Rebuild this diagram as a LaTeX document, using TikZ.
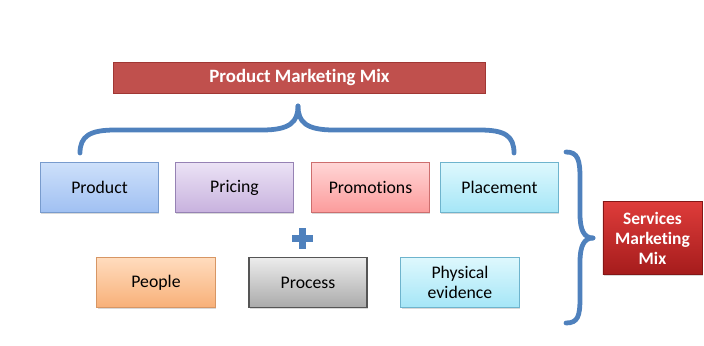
\documentclass[tikz,border=0pt]{standalone}
\usepackage{fontspec}
\setmainfont{Carlito}[Ligatures=NoCommon]
\usetikzlibrary{shadows}
\usepackage{xcolor}
\definecolor{bracblue}{RGB}{79,129,189}
\definecolor{mixred}{RGB}{192,80,77}
\definecolor{mixredd}{RGB}{160,55,52}
\definecolor{svctop}{RGB}{222,60,58}
\definecolor{svcbot}{RGB}{165,28,28}
\definecolor{prodtop}{RGB}{205,224,250}
\definecolor{prodbot}{RGB}{160,192,242}
\definecolor{prodln}{RGB}{120,155,205}
\definecolor{pricetop}{RGB}{235,226,245}
\definecolor{pricebot}{RGB}{200,178,222}
\definecolor{priceln}{RGB}{150,130,180}
\definecolor{promtop}{RGB}{255,214,214}
\definecolor{prombot}{RGB}{252,155,155}
\definecolor{promln}{RGB}{205,110,110}
\definecolor{plactop}{RGB}{222,248,253}
\definecolor{placbot}{RGB}{165,230,247}
\definecolor{placln}{RGB}{110,180,205}
\definecolor{peoptop}{RGB}{255,220,190}
\definecolor{peopbot}{RGB}{248,176,120}
\definecolor{peopln}{RGB}{215,150,100}
\definecolor{proctop}{RGB}{236,236,236}
\definecolor{procbot}{RGB}{170,170,170}
\definecolor{procln}{RGB}{85,85,85}

\begin{document}
\begin{tikzpicture}[x=0.025cm, y=-0.025cm, font=\fontsize{12.6}{14.5}\selectfont,
  mbox/.style={draw, line width=0.7pt, minimum width=2.95cm, minimum height=1.25cm,
               align=center, text=black,
               drop shadow={opacity=0.3, shadow xshift=0.6pt, shadow yshift=-0.8pt}},
  brace/.style={draw=bracblue, line width=3.4pt, line cap=round}]

\useasboundingbox (0,0) rectangle (704,345);

% --- headings ---
\node[draw=mixredd, fill=mixred, minimum width=9.3cm, minimum height=0.78cm,
      text=white, font=\fontsize{13.4}{15}\selectfont\bfseries] (pmm) at (299.5,77.5) {Product Marketing Mix};
\node[draw=svcbot!80!black, top color=svctop, bottom color=svcbot, minimum width=2.48cm,
      minimum height=1.82cm, align=center, text=white, font=\fontsize{12.4}{14.3}\selectfont\bfseries,
      drop shadow={opacity=0.3, shadow xshift=0.6pt, shadow yshift=-0.8pt}] (smm) at (652.5,238) {Services\\Marketing\\Mix};

% --- the four Ps ---
\node[mbox, draw=prodln,  top color=prodtop,  bottom color=prodbot]  (product) at (99.5,187.5)  {Product};
\node[mbox, draw=priceln, top color=pricetop, bottom color=pricebot] (pricing) at (234.5,187.5) {Pricing};
\node[mbox, draw=promln,  top color=promtop,  bottom color=prombot]  (promo)   at (370.5,187.5) {Promotions};
\node[mbox, draw=placln,  top color=plactop,  bottom color=placbot]  (place)   at (499.5,187.5) {Placement};

% --- the extra three ---
\node[mbox, draw=peopln, top color=peoptop, bottom color=peopbot] (people)  at (156,282.5) {People};
\node[mbox, draw=procln, line width=1pt, top color=proctop, bottom color=procbot] (process) at (308,282.5) {Process};
\node[mbox, draw=placln, top color=plactop, bottom color=placbot, font=\fontsize{12.6}{14}\selectfont] (phys) at (460,282.5) {Physical\\evidence};

% --- plus sign ---
\fill[bracblue] (298.5,228) rectangle (305.5,249);
\fill[bracblue] (291.5,235) rectangle (312.5,242);

% --- braces ---
\draw[brace] (80,153) .. controls (80,136) and (90,130) .. (115,130) -- (262,130)
             .. controls (290,130) and (298,122) .. (298,106);
\draw[brace] (298,106) .. controls (298,122) and (306,130) .. (334,130) -- (480,130)
             .. controls (505,130) and (514,136) .. (514,153);
\draw[brace] (566,152) .. controls (578,152) and (580,160) .. (580,178) -- (580,214)
             .. controls (580,230) and (584,238) .. (593,238);
\draw[brace] (593,238) .. controls (584,238) and (580,246) .. (580,262) -- (580,298)
             .. controls (580,316) and (578,323) .. (566,323);
\end{tikzpicture}
\end{document}
